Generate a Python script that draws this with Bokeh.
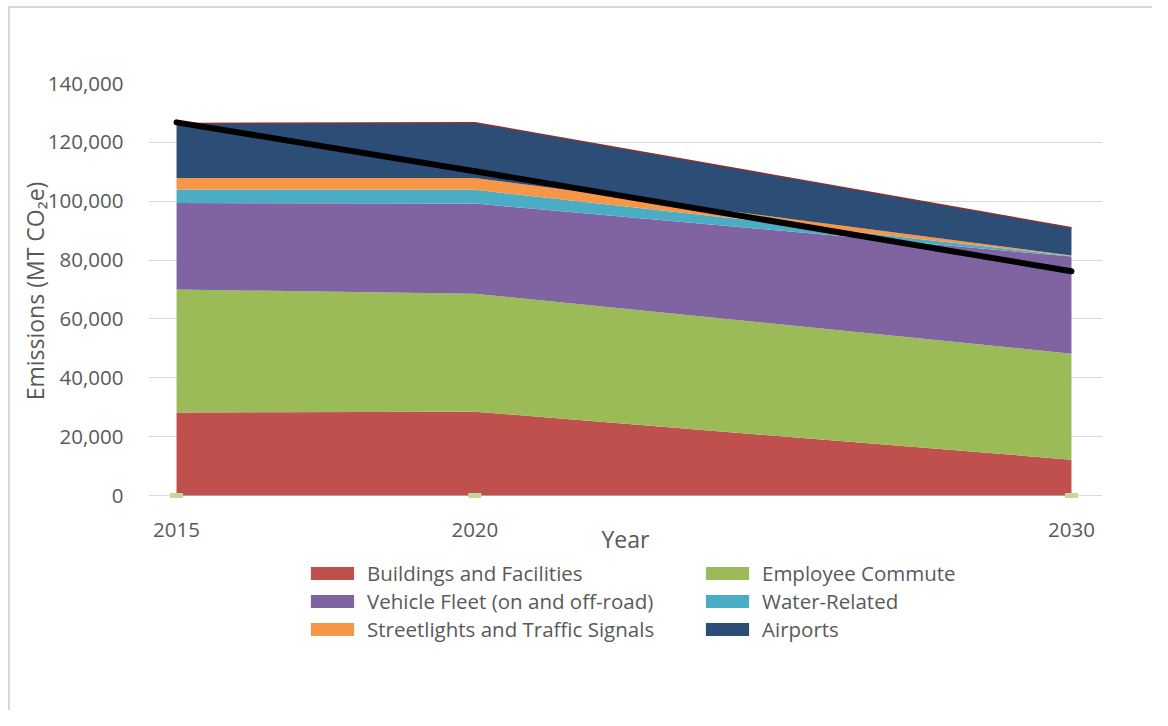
import numpy as np
from bokeh.plotting import figure
from bokeh.layouts import column, row
from bokeh.models import (ColumnDataSource, Legend, LegendItem, FixedTicker,
                          NumeralTickFormatter, Range1d, Spacer)
from bokeh.embed import file_html
from bokeh.resources import INLINE

years = [2015, 2020, 2030]
series_names = ["Buildings and Facilities", "Employee Commute",
                "Vehicle Fleet (on and off-road)", "Water-Related",
                "Streetlights and Traffic Signals", "Airports"]
buildings = [28200, 28500, 12200]
commute = [41800, 40100, 36000]
vehicle = [29400, 30600, 33000]
water = [4600, 4700, 200]
streetlights = [3900, 4000, 200]
airports = [18500, 18800, 9400]
target = [126800, 110200, 76200]
colors = ["#C0504D", "#9BBB59", "#8064A2", "#4BACC6", "#F79646", "#2C4D75"]
y_ticks = [0, 20000, 40000, 60000, 80000, 100000, 120000, 140000]
x_ticks = [2015, 2020, 2030]

keys = ["b", "c", "v", "w", "s", "a"]
data = dict(x=years, b=buildings, c=commute, v=vehicle, w=water,
            s=streetlights, a=airports)
total = np.sum([buildings, commute, vehicle, water, streetlights, airports], axis=0)
data["total"] = list(total)
data["zero"] = [0] * len(years)
data["target"] = target
src = ColumnDataSource(data)

FONT = "Open Sans"
TXT = "#595959"
BORDER = "2px solid #D9D9D9"

p = figure(width=1144, height=552, output_backend="svg", toolbar_location=None,
           x_range=Range1d(2014.53, 2030.52), y_range=Range1d(-1000, 140000),
           min_border_left=138, min_border_right=52, min_border_top=75,
           min_border_bottom=62)
p.styles = {"border-top": BORDER, "border-left": BORDER, "box-sizing": "border-box"}
p.outline_line_color = None
p.xgrid.grid_line_color = None
p.ygrid.grid_line_color = "#D9D9D9"
p.ygrid.grid_line_width = 1.2
p.ygrid.ticker = FixedTicker(ticks=y_ticks)

renderers = p.varea_stack(stackers=keys, x="x", color=colors, source=src)
p.line("x", "total", source=src, line_color="#8B3333", line_width=1.5)
p.rect("x", "zero", width=13, height=5, width_units="screen", height_units="screen",
       source=src, fill_color="#C4D79B", line_color=None)
p.line("x", "target", source=src, line_color="black", line_width=6, line_cap="round")

yax = p.yaxis[0]
yax.ticker = FixedTicker(ticks=y_ticks)
yax.formatter = NumeralTickFormatter(format="0,0")
yax.axis_line_color = None
yax.major_tick_line_color = None
yax.minor_tick_line_color = None
yax.major_label_standoff = 19
yax.major_label_text_font = FONT
yax.major_label_text_font_size = "20.5px"
yax.major_label_text_color = TXT
yax.axis_label = "Emissions (MT CO\u2082e)"
yax.axis_label_text_font = FONT
yax.axis_label_text_font_size = "23px"
yax.axis_label_text_font_style = "normal"
yax.axis_label_text_color = TXT
yax.axis_label_standoff = -6

xax = p.xaxis[0]
xax.ticker = FixedTicker(ticks=x_ticks)
xax.axis_line_color = None
xax.major_tick_line_color = None
xax.minor_tick_line_color = None
xax.major_label_standoff = 18
xax.major_label_text_font = FONT
xax.major_label_text_font_size = "20.5px"
xax.major_label_text_color = TXT
xax.axis_label = "Year"
xax.axis_label_text_font = FONT
xax.axis_label_text_font_size = "23px"
xax.axis_label_text_font_style = "normal"
xax.axis_label_text_color = TXT
xax.axis_label_standoff = -17

# legend panel (its frame is aligned with the chart's frame by the column layout)
p2 = figure(width=1144, height=152, output_backend="svg", toolbar_location=None,
            x_range=Range1d(0, 1), y_range=Range1d(0, 1),
            x_axis_location=None, y_axis_location=None, min_border=0)
p2.styles = {"border-left": BORDER, "box-sizing": "border-box"}
p2.outline_line_color = None
p2.grid.visible = False
proxy = ColumnDataSource(dict(x=[float("nan")], y=[float("nan")]))
swatches = [p2.rect("x", "y", width=0.1, height=0.1, source=proxy,
                    fill_color=c, line_color=None) for c in colors]

def make_legend(idx, x, y):
    items = [LegendItem(label=series_names[i], renderers=[swatches[i]], index=0)
             for i in idx]
    lg = Legend(items=items, location=(x, y), orientation="vertical",
                glyph_width=54, glyph_height=16, label_standoff=8, spacing=0,
                padding=0, margin=0, border_line_color=None,
                background_fill_alpha=0, label_text_font=FONT,
                label_text_font_size="20.5px", label_text_color=TXT,
                label_height=25)
    p2.add_layout(lg, "center")

make_legend([0, 2, 4], 157, 67)
make_legend([1, 3, 5], 552, 67)

layout = row(Spacer(width=8), column(Spacer(height=6), p, p2))
open("out.html", "w").write(file_html(layout, INLINE))
